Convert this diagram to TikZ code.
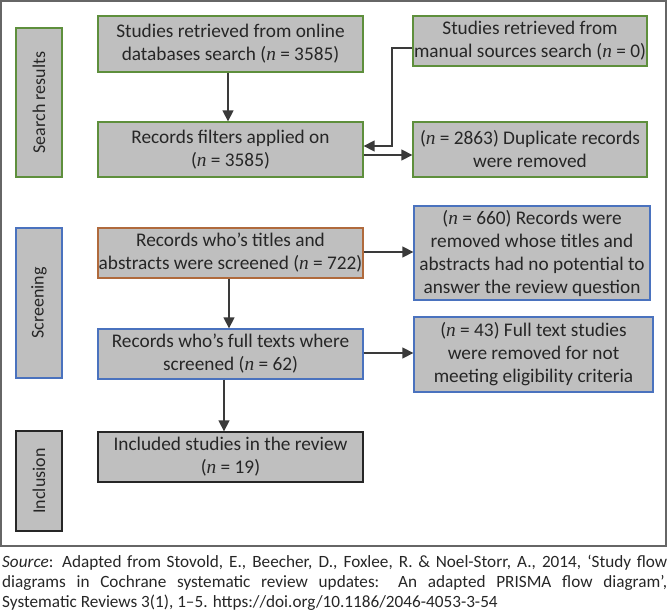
\documentclass[tikz,border=0pt]{standalone}
\usepackage{fontspec}
\setmainfont{Carlito}
\newfontfamily\nfont{Liberation Serif}
\usetikzlibrary{arrows.meta}
\newcommand{\nn}{{\nfont\itshape n}}
\definecolor{boxgray}{HTML}{BFBFBF}
\definecolor{gr}{HTML}{5E8F3C}
\definecolor{org}{HTML}{B06A3C}
\definecolor{blu}{HTML}{4A72BE}
\definecolor{txt}{HTML}{262626}
\definecolor{ln}{HTML}{3A3A3A}
\begin{document}
\begin{tikzpicture}[x=1pt,y=-1pt,
  box/.style={draw, fill=boxgray, line width=1.3pt, inner sep=0pt, align=center,
    text=txt, font=\fontsize{19.3}{23}\selectfont},
  gbox/.style={box, draw=gr},
  obox/.style={box, draw=org},
  bbox/.style={box, draw=blu},
  kbox/.style={box, draw=black!85},
  lab/.style={rotate=90, text=txt, font=\fontsize{18}{23}\selectfont},
  arr/.style={draw=ln, line width=1.4pt, -{Triangle[length=11pt,width=11pt]}}]
\useasboundingbox (0,0) rectangle (670,615);
\draw[line width=1.2pt, draw=black!60] (1,1) rectangle (666,546);
% stage labels
\node[gbox, minimum width=46pt, minimum height=149pt] (sr) at (39,102.5) {};
\node[lab] at (sr.center) {Search results};
\node[bbox, minimum width=46pt, minimum height=150pt] (scr) at (39,303) {};
\node[lab] at (scr.center) {Screening};
\node[kbox, minimum width=46pt, minimum height=100pt] (inc) at (39,481) {};
\node[lab] at (inc.center) {Inclusion};
% main boxes
\node[gbox, minimum width=265pt, minimum height=56pt] (b1) at (230.5,44) {Studies retrieved from online\\databases search (\nn{} = 3585)};
\node[gbox, minimum width=265pt, minimum height=55pt] (b2) at (230.5,149.5) {Records filters applied on\\(\nn{} = 3585)};
\node[gbox, minimum width=234pt, minimum height=50pt] (man) at (530,41) {Studies retrieved from\\manual sources search (\nn{} = 0)};
\node[gbox, minimum width=234pt, minimum height=55pt] (dup) at (530,149.5) {(\nn{} = 2863) Duplicate records\\were removed};
\node[obox, minimum width=265pt, minimum height=50pt] (tit) at (230.5,253) {Records who’s titles and\\abstracts were screened (\nn{} = 722)};
\node[bbox, minimum width=236pt, minimum height=94pt] (r660) at (532,253) {(\nn{} = 660) Records were\\removed whose titles and\\abstracts had no potential to\\answer the review question};
\node[bbox, minimum width=265pt, minimum height=50pt] (full) at (230.5,354) {Records who’s full texts where\\screened (\nn{} = 62)};
\node[bbox, minimum width=239pt, minimum height=75pt] (r43) at (533.5,354.5) {(\nn{} = 43) Full text studies\\were removed for not\\meeting eligibility criteria};
\node[kbox, minimum width=265pt, minimum height=50pt] (incl) at (230.5,457) {Included studies in the review\\(\nn{} = 19)};
% connectors
\draw[arr] (b1.south -| 228,0) -- (b2.north -| 228,0);
\draw[arr] (b2.east |- 0,155) -- (dup.west |- 0,155);
\coordinate (c1) at (392,48);
\coordinate (c2) at (392,146);
\draw[arr] (man.west |- c1) -- (c1) -- (c2) -- (b2.east |- c2);
\draw[arr] (tit.east |- 0,252) -- (r660.west |- 0,252);
\draw[arr] (tit.south -| 229,0) -- (full.north -| 229,0);
\draw[arr] (full.east |- 0,353) -- (r43.west |- 0,353);
\draw[arr] (full.south -| 224,0) -- (incl.north -| 224,0);
% caption
\node[anchor=north west, inner sep=0pt, text width=665pt, align=justify, text=txt,
  font=\fontsize{17.2}{20}\selectfont] (cap) at (2,555) {\textit{Source}: Adapted from Stovold, E., Beecher, D., Foxlee, R. \& Noel-Storr, A., 2014, ‘Study flow\linebreak diagrams in Cochrane systematic review updates: An adapted PRISMA flow diagram’,\linebreak Systematic Reviews 3(1), 1–5. https://doi.org/10.1186/2046-4053-3-54};
\end{tikzpicture}
\end{document}
